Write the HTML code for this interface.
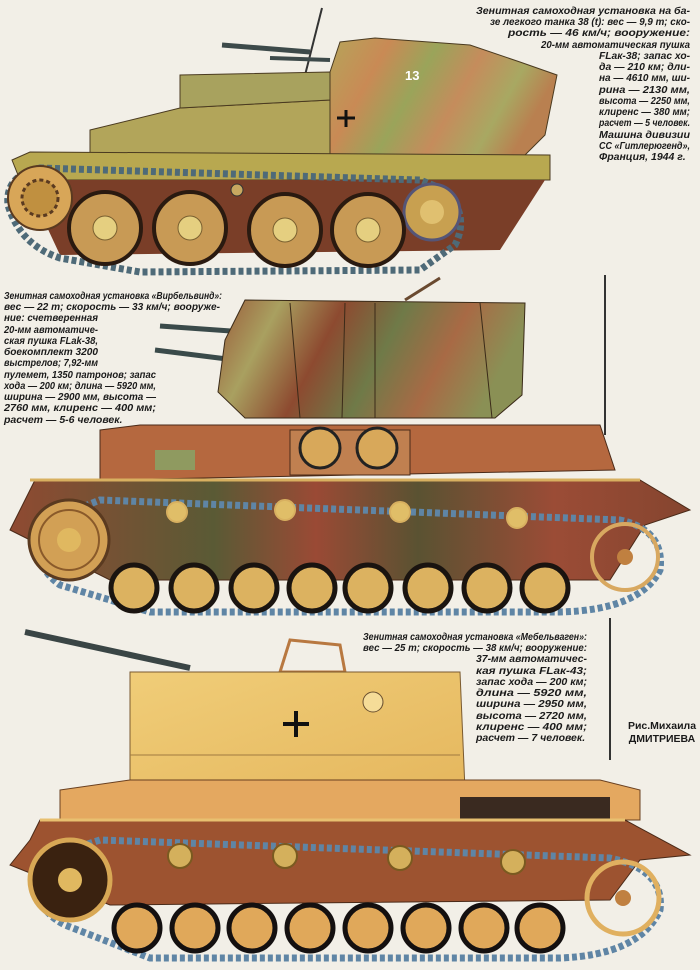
<!DOCTYPE html>
<html><head><meta charset="utf-8"><style>
html,body{margin:0;padding:0;background:#f2efe7}
svg{display:block}
text{font-family:"Liberation Sans","DejaVu Sans",sans-serif;font-weight:bold;font-style:italic;font-size:10.5px;fill:#1a1a1a}
</style></head><body>
<svg width="700" height="970" viewBox="0 0 700 970" xmlns="http://www.w3.org/2000/svg">
<defs>
<linearGradient id="camo1" x1="0" y1="0" x2="1" y2="0.3">
<stop offset="0" stop-color="#b5a45a"/><stop offset="0.25" stop-color="#c98a55"/><stop offset="0.45" stop-color="#9aa45a"/><stop offset="0.65" stop-color="#c58c5c"/><stop offset="0.85" stop-color="#a8a862"/><stop offset="1" stop-color="#b98050"/></linearGradient>
<linearGradient id="camo2" x1="0" y1="0" x2="1" y2="0.2">
<stop offset="0" stop-color="#9a5a3a"/><stop offset="0.2" stop-color="#a9a060"/><stop offset="0.4" stop-color="#8d4a30"/><stop offset="0.6" stop-color="#6f7a48"/><stop offset="0.8" stop-color="#a86a45"/><stop offset="1" stop-color="#8a9055"/></linearGradient>
<linearGradient id="brown" x1="0" y1="0" x2="1" y2="0">
<stop offset="0" stop-color="#8f4a32"/><stop offset="0.3" stop-color="#5a5a35"/><stop offset="0.45" stop-color="#9a4a35"/><stop offset="0.6" stop-color="#5a5232"/><stop offset="0.8" stop-color="#9b4c36"/><stop offset="1" stop-color="#85452f"/></linearGradient>
<linearGradient id="sand" x1="0" y1="0" x2="1" y2="1">
<stop offset="0" stop-color="#f0cd78"/><stop offset="1" stop-color="#e5b75e"/></linearGradient>
</defs>

<!-- ============ TANK 1 ============ -->
<line x1="300" y1="95" x2="322" y2="8" stroke="#333" stroke-width="2"/>
<line x1="222" y1="45" x2="310" y2="52" stroke="#3d4a4a" stroke-width="5"/>
<line x1="270" y1="58" x2="330" y2="60" stroke="#3d4a4a" stroke-width="4"/>
<path d="M330 72 L340 42 L375 38 L470 45 L520 62 L557 75 L545 135 L520 160 L330 160 Z" fill="url(#camo1)" stroke="#4a3a20"/>
<path d="M90 130 L180 108 L330 100 L330 160 L90 160 Z" fill="#b2a55a" stroke="#4a3a20"/>
<path d="M180 75 L330 72 L330 100 L180 108 Z" fill="#a8a25e" stroke="#4a3a20"/>
<text x="405" y="80" style="fill:#fff;font-style:normal;font-size:13px">13</text>
<path d="M337 118h18M346 110v17" stroke="#111" stroke-width="3"/>
<path d="M12 160 L30 152 L550 155 L550 180 L20 180 Z" fill="#b8a850" stroke="#4a3a20"/>
<path d="M25 180 L545 180 L500 250 L60 255 Z" fill="#7a3e28"/>
<path d="M40 168 Q5 175 8 205 Q20 245 60 258 L140 272 L420 270 L455 245 Q470 215 445 190 L420 180 Z" fill="none" stroke="#4e6a78" stroke-width="7" stroke-dasharray="5 3"/>
<circle cx="40" cy="198" r="32" fill="#d8a658" stroke="#5a3a20" stroke-width="2"/>
<circle cx="40" cy="198" r="18" fill="#c09040" stroke="#5a3a20" stroke-width="3" stroke-dasharray="4 3"/>
<circle cx="432" cy="212" r="28" fill="#c8a050" stroke="#557" stroke-width="3"/>
<circle cx="432" cy="212" r="12" fill="#e0c070"/>
<g fill="#c89a55" stroke="#2a1a10" stroke-width="4">
<circle cx="105" cy="228" r="36"/><circle cx="190" cy="228" r="36"/><circle cx="285" cy="230" r="36"/><circle cx="368" cy="230" r="36"/></g>
<g fill="#e5cf80" stroke="#7a6030" stroke-width="1">
<circle cx="105" cy="228" r="12"/><circle cx="190" cy="228" r="12"/><circle cx="285" cy="230" r="12"/><circle cx="368" cy="230" r="12"/></g>
<circle cx="237" cy="190" r="6" fill="#c8a860" stroke="#333"/>

<!-- ============ TANK 2 ============ -->
<line x1="605" y1="275" x2="605" y2="435" stroke="#333" stroke-width="2"/>
<line x1="160" y1="326" x2="245" y2="332" stroke="#3a4a4a" stroke-width="5"/>
<line x1="155" y1="350" x2="235" y2="360" stroke="#3a4a4a" stroke-width="5"/>
<path d="M245 300 L525 303 L522 395 L495 418 L245 418 L218 392 L225 340 Z" fill="url(#camo2)" stroke="#3a2a18"/>
<path d="M290 303 L300 418 M345 303 L342 418 M375 303 L375 418 M480 303 L492 418" stroke="#3a2a18" stroke-width="1" fill="none"/>
<line x1="405" y1="300" x2="440" y2="278" stroke="#6a4a30" stroke-width="3"/>
<path d="M100 430 L140 425 L600 425 L615 470 L100 480 Z" fill="#b5683f" stroke="#4a2a18"/>
<rect x="155" y="450" width="40" height="20" fill="#8f9a60"/>
<rect x="290" y="430" width="120" height="45" fill="#c08050" stroke="#4a2a18"/>
<circle cx="320" cy="448" r="20" fill="#d8a85a" stroke="#222" stroke-width="3"/>
<circle cx="377" cy="448" r="20" fill="#d8a85a" stroke="#222" stroke-width="3"/>
<path d="M10 530 L35 480 L640 480 L690 510 L645 525 L610 580 L110 580 Z" fill="url(#brown)" stroke="#4a2a18"/>
<path d="M30 480 L640 480" stroke="#d8b060" stroke-width="3"/>
<path d="M50 520 Q25 560 60 585 L150 612 L560 612 Q640 610 660 570 Q665 530 620 520 L100 500 Z" fill="none" stroke="#5f85a5" stroke-width="7" stroke-dasharray="5 3"/>
<circle cx="69" cy="540" r="40" fill="#d2a055" stroke="#5a3a20" stroke-width="3"/>
<circle cx="69" cy="540" r="30" fill="none" stroke="#8a5a2a" stroke-width="2"/>
<circle cx="69" cy="540" r="12" fill="#e0b860"/>
<circle cx="625" cy="557" r="33" fill="none" stroke="#d8a860" stroke-width="4"/>
<circle cx="625" cy="557" r="8" fill="#c08040"/>
<g fill="#e0be68" stroke="#d8b060" stroke-width="2">
<circle cx="177" cy="512" r="10"/><circle cx="285" cy="510" r="10"/><circle cx="400" cy="512" r="10"/><circle cx="517" cy="518" r="10"/></g>
<g fill="#dcb260" stroke="#1a1410" stroke-width="5">
<circle cx="134" cy="588" r="23"/><circle cx="194" cy="588" r="23"/><circle cx="254" cy="588" r="23"/><circle cx="312" cy="588" r="23"/><circle cx="368" cy="588" r="23"/><circle cx="428" cy="588" r="23"/><circle cx="487" cy="588" r="23"/><circle cx="545" cy="588" r="23"/></g>

<!-- ============ TANK 3 ============ -->
<line x1="610" y1="618" x2="610" y2="760" stroke="#333" stroke-width="2"/>
<line x1="25" y1="632" x2="190" y2="668" stroke="#3a4545" stroke-width="6"/>
<path d="M290 640 L340 645 L345 672 L280 672 Z" fill="none" stroke="#b87840" stroke-width="3"/>
<path d="M130 672 L460 672 L465 790 L130 790 Z" fill="url(#sand)" stroke="#7a5a30"/>
<path d="M283 724h26M296 711v26" stroke="#111" stroke-width="4"/>
<circle cx="373" cy="702" r="10" fill="#f5dc98" stroke="#6a5030"/>
<path d="M130 755 L460 755" stroke="#a07a40"/>
<path d="M60 790 L130 780 L600 780 L640 790 L640 820 L60 820 Z" fill="#e4a860" stroke="#6a4020"/>
<rect x="460" y="797" width="150" height="22" fill="#3a2a20"/>
<path d="M10 865 L30 840 L40 820 L625 820 L690 855 L640 860 L610 900 L110 905 Z" fill="#9d5330" stroke="#4a2a18"/>
<path d="M40 820 L625 820" stroke="#e8c070" stroke-width="3"/>
<path d="M45 858 Q25 905 65 925 L150 958 L560 958 Q640 955 660 910 Q665 870 610 858 L100 840 Z" fill="none" stroke="#5f85a5" stroke-width="7" stroke-dasharray="5 3"/>
<circle cx="70" cy="880" r="40" fill="#3a2210" stroke="#d8a855" stroke-width="5"/>
<circle cx="70" cy="880" r="12" fill="#e0b860"/>
<circle cx="623" cy="898" r="36" fill="none" stroke="#e0b060" stroke-width="5"/>
<circle cx="623" cy="898" r="8" fill="#c08040"/>
<g fill="#d4b05c" stroke="#7a5a20" stroke-width="2">
<circle cx="180" cy="856" r="12"/><circle cx="285" cy="856" r="12"/><circle cx="400" cy="858" r="12"/><circle cx="513" cy="862" r="12"/></g>
<g fill="#e0a85a" stroke="#141010" stroke-width="5">
<circle cx="137" cy="928" r="23"/><circle cx="195" cy="928" r="23"/><circle cx="252" cy="928" r="23"/><circle cx="310" cy="928" r="23"/><circle cx="368" cy="928" r="23"/><circle cx="426" cy="928" r="23"/><circle cx="484" cy="928" r="23"/><circle cx="540" cy="928" r="23"/></g>

<!-- ============ TEXT 1 ============ -->
<text x="476" y="14" textLength="214" lengthAdjust="spacingAndGlyphs">Зенитная самоходная установка на ба-</text>
<text x="490" y="25" textLength="200" lengthAdjust="spacingAndGlyphs">зе легкого танка 38 (t): вес — 9,9 т; ско-</text>
<text x="508" y="36" textLength="182" lengthAdjust="spacingAndGlyphs">рость — 46 км/ч; вооружение:</text>
<text x="541" y="48" textLength="149" lengthAdjust="spacingAndGlyphs">20-мм автоматическая пушка</text>
<text x="599" y="59" textLength="91" lengthAdjust="spacingAndGlyphs">FLак-38; запас хо-</text>
<text x="599" y="70" textLength="91" lengthAdjust="spacingAndGlyphs">да — 210 км; дли-</text>
<text x="599" y="81" textLength="91" lengthAdjust="spacingAndGlyphs">на — 4610 мм, ши-</text>
<text x="599" y="93" textLength="91" lengthAdjust="spacingAndGlyphs">рина — 2130 мм,</text>
<text x="599" y="104" textLength="91" lengthAdjust="spacingAndGlyphs">высота — 2250 мм,</text>
<text x="599" y="115" textLength="91" lengthAdjust="spacingAndGlyphs">клиренс — 380 мм;</text>
<text x="599" y="126" textLength="91" lengthAdjust="spacingAndGlyphs">расчет — 5 человек.</text>
<text x="599" y="138" textLength="91" lengthAdjust="spacingAndGlyphs">Машина дивизии</text>
<text x="599" y="149" textLength="91" lengthAdjust="spacingAndGlyphs">СС «Гитлерюгенд»,</text>
<text x="599" y="160">Франция, 1944 г.</text>

<!-- ============ TEXT 2 ============ -->
<text x="4" y="299" textLength="218" lengthAdjust="spacingAndGlyphs">Зенитная самоходная установка «Вирбельвинд»:</text>
<text x="4" y="310" textLength="216" lengthAdjust="spacingAndGlyphs">вес — 22 т; скорость — 33 км/ч; вооруже-</text>
<text x="4" y="321" textLength="94" lengthAdjust="spacingAndGlyphs">ние: счетверенная</text>
<text x="4" y="333" textLength="94" lengthAdjust="spacingAndGlyphs">20-мм автоматиче-</text>
<text x="4" y="344" textLength="94" lengthAdjust="spacingAndGlyphs">ская пушка FLak-38,</text>
<text x="4" y="355" textLength="94" lengthAdjust="spacingAndGlyphs">боекомплект 3200</text>
<text x="4" y="366" textLength="94" lengthAdjust="spacingAndGlyphs">выстрелов; 7,92-мм</text>
<text x="4" y="378" textLength="152" lengthAdjust="spacingAndGlyphs">пулемет, 1350 патронов; запас</text>
<text x="4" y="389" textLength="152" lengthAdjust="spacingAndGlyphs">хода — 200 км; длина — 5920 мм,</text>
<text x="4" y="400" textLength="152" lengthAdjust="spacingAndGlyphs">ширина — 2900 мм, высота —</text>
<text x="4" y="411" textLength="152" lengthAdjust="spacingAndGlyphs">2760 мм, клиренс — 400 мм;</text>
<text x="4" y="423">расчет — 5-6 человек.</text>

<!-- ============ TEXT 3 ============ -->
<text x="363" y="640" textLength="224" lengthAdjust="spacingAndGlyphs">Зенитная самоходная установка «Мебельваген»:</text>
<text x="363" y="651" textLength="224" lengthAdjust="spacingAndGlyphs">вес — 25 т; скорость — 38 км/ч; вооружение:</text>
<text x="476" y="662" textLength="111" lengthAdjust="spacingAndGlyphs">37-мм автоматичес-</text>
<text x="476" y="674" textLength="111" lengthAdjust="spacingAndGlyphs">кая пушка FLак-43;</text>
<text x="476" y="685" textLength="111" lengthAdjust="spacingAndGlyphs">запас хода — 200 км;</text>
<text x="476" y="696" textLength="111" lengthAdjust="spacingAndGlyphs">длина — 5920 мм,</text>
<text x="476" y="707" textLength="111" lengthAdjust="spacingAndGlyphs">ширина — 2950 мм,</text>
<text x="476" y="719" textLength="111" lengthAdjust="spacingAndGlyphs">высота — 2720 мм,</text>
<text x="476" y="730" textLength="111" lengthAdjust="spacingAndGlyphs">клиренс — 400 мм;</text>
<text x="476" y="741">расчет — 7 человек.</text>
<text x="662" y="729" text-anchor="middle" style="font-style:normal">Рис.Михаила</text>
<text x="662" y="742" text-anchor="middle" style="font-style:normal">ДМИТРИЕВА</text>
</svg>
</body></html>
